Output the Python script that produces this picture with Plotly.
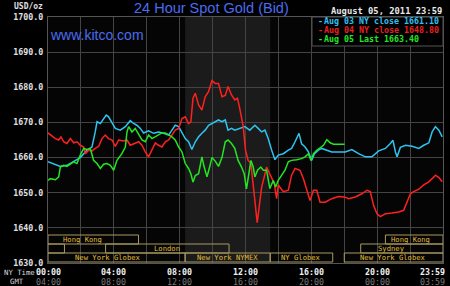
import plotly.graph_objects as go

# ---------------- data ----------------
t_aug03 = [0.00,0.34,0.75,1.15,1.56,1.96,2.37,2.67,2.87,2.98,3.18,3.38,3.54,3.68,3.89,4.09,4.39,4.70,5.00,5.20,
           5.40,5.61,5.81,6.11,6.42,6.72,7.02,7.33,7.53,7.73,7.94,8.14,8.34,8.54,8.74,8.95,9.15,9.35,9.55,9.76,
           9.96,10.16,10.36,10.57,10.77,10.94,11.15,11.35,11.65,11.96,12.26,12.57,12.77,12.98,13.18,13.38,13.59,
           13.79,13.99,14.30,14.60,14.80,15.01,15.11,15.25,15.41,15.62,15.82,16.02,16.19,16.43,16.63,16.84,17.24,
           17.65,18.06,18.46,18.87,19.28,19.68,20.09,20.50,20.80,20.96,21.11,21.21,21.41,21.72,22.12,22.53,22.83,
           23.14,23.34,23.54,23.75,23.95]
p_aug03 = [1658.8,1658.3,1657.5,1657.8,1658.8,1660.0,1662.1,1663.0,1667.3,1670.2,1669.7,1671.1,1672.1,1671.6,1669.7,
           1668.3,1667.8,1668.8,1670.5,1669.7,1669.2,1668.3,1667.0,1667.6,1666.9,1667.3,1666.9,1666.4,1667.8,1669.2,
           1668.8,1666.9,1665.4,1664.5,1662.3,1664.5,1665.9,1666.9,1667.8,1669.2,1669.7,1670.2,1670.7,1670.2,1670.7,
           1667.8,1668.3,1667.8,1668.3,1668.8,1667.8,1669.2,1668.3,1667.3,1667.8,1665.4,1662.1,1659.4,1660.7,1661.1,
           1662.1,1662.6,1664.5,1665.4,1666.9,1663.9,1663.0,1661.6,1659.2,1661.1,1662.1,1662.6,1662.3,1661.6,1661.6,
           1661.6,1662.3,1661.1,1660.2,1660.2,1661.9,1662.6,1664.0,1664.9,1661.6,1660.2,1662.9,1663.5,1663.2,1662.6,
           1663.5,1664.2,1667.3,1668.8,1667.8,1665.9]

t_aug04 = [0.00,0.24,0.45,0.65,0.79,0.95,1.15,1.36,1.56,1.76,1.96,2.17,2.27,2.47,2.67,2.87,3.08,3.28,3.48,3.68,
           3.89,4.09,4.29,4.60,4.80,5.00,5.30,5.51,5.71,5.91,6.11,6.32,6.52,6.72,6.92,7.13,7.33,7.53,7.73,7.94,
           8.14,8.34,8.54,8.68,8.81,8.95,9.15,9.35,9.55,9.76,9.96,10.16,10.36,10.57,10.77,10.94,11.15,11.35,11.51,
           11.65,11.86,12.00,12.16,12.33,12.47,12.61,12.71,12.83,12.98,13.14,13.28,13.42,13.59,13.75,13.89,13.99,
           14.15,14.30,14.60,14.80,15.01,15.31,15.52,15.72,15.92,16.13,16.33,16.53,16.84,17.24,17.65,18.02,18.26,
           18.67,19.07,19.38,19.58,19.78,19.99,20.19,20.50,20.90,21.31,21.61,21.82,22.02,22.22,22.53,22.83,23.14,
           23.34,23.54,23.75,23.95]
p_aug04 = [1667.0,1666.1,1665.4,1665.0,1665.9,1664.5,1664.0,1665.4,1664.2,1664.5,1663.5,1663.0,1661.1,1662.1,1661.9,
           1662.6,1663.2,1665.4,1666.4,1665.4,1665.0,1663.2,1665.0,1664.7,1665.0,1663.5,1664.2,1664.5,1663.5,1661.6,
           1660.2,1662.1,1664.2,1663.5,1663.0,1664.5,1665.0,1666.4,1667.8,1668.3,1671.1,1671.6,1669.7,1670.2,1676.9,
           1678.3,1675.0,1673.5,1677.3,1678.8,1681.9,1681.1,1681.1,1677.3,1677.7,1680.2,1677.8,1676.4,1676.9,1674.0,
           1668.8,1662.1,1659.2,1658.3,1652.6,1645.9,1641.5,1645.9,1651.6,1654.5,1657.3,1655.9,1654.0,1652.6,1648.3,
           1652.2,1651.2,1650.3,1650.7,1655.0,1656.9,1656.4,1654.0,1651.2,1647.8,1650.7,1650.7,1647.3,1647.3,1648.3,
           1648.9,1648.8,1648.3,1648.8,1649.7,1650.7,1650.3,1646.4,1644.0,1643.2,1644.0,1644.2,1644.5,1645.0,1647.3,
           1649.7,1650.3,1651.0,1652.2,1653.1,1654.0,1655.0,1654.3,1653.1]

t_aug05 = [0.00,0.14,0.45,0.65,0.75,0.95,1.15,1.36,1.56,1.76,1.96,2.17,2.37,2.57,2.77,2.98,3.18,3.38,3.58,3.79,
           3.99,4.19,4.49,4.70,4.80,4.90,5.10,5.30,5.51,5.71,5.91,6.11,6.32,6.52,6.72,6.92,7.13,7.33,7.53,7.73,
           7.94,8.14,8.34,8.54,8.68,8.81,8.95,9.15,9.35,9.49,9.66,9.82,9.96,10.16,10.36,10.57,10.77,10.94,11.15,
           11.35,11.55,11.76,11.92,12.06,12.20,12.33,12.47,12.57,12.73,12.93,13.08,13.28,13.48,13.69,13.83,13.99,
           14.20,14.40,14.60,14.80,15.11,15.41,15.62,15.82,15.98,16.13,16.33,16.53,16.74,16.94,17.14,17.35,17.65,18.02]
p_aug05 = [1653.5,1654.0,1653.7,1654.5,1657.3,1657.8,1657.5,1658.3,1658.8,1658.3,1660.7,1662.6,1662.3,1662.6,1659.2,
           1658.3,1656.9,1658.1,1658.3,1657.8,1656.4,1659.2,1661.1,1663.0,1667.3,1668.8,1667.3,1668.3,1666.4,1665.0,
           1664.5,1666.4,1665.4,1665.9,1666.4,1667.0,1667.0,1666.4,1665.9,1665.0,1663.0,1661.6,1658.3,1656.9,1655.4,
           1653.0,1654.9,1655.4,1660.2,1657.3,1654.5,1657.3,1660.0,1659.0,1657.5,1660.0,1664.5,1665.0,1664.0,1662.6,
           1659.2,1657.3,1655.4,1651.1,1655.4,1659.2,1657.3,1654.5,1656.4,1657.3,1656.4,1656.4,1651.2,1653.5,1651.6,
           1653.5,1655.0,1656.4,1658.8,1659.2,1659.4,1659.7,1660.2,1661.1,1659.2,1661.1,1662.1,1662.9,1663.5,1665.1,
           1664.2,1663.8,1663.8,1663.8]

series_labels = ["Aug 03 NY close 1661.10", "Aug 04 NY close 1648.80", "Aug 05 Last 1663.40"]
series_colors = ["#2ec4f0", "#ff2020", "#22e622"]
legend_text_colors = ["#30c0f0", "#e82020", "#22e622"]

y_ticks = [1630, 1640, 1650, 1660, 1670, 1680, 1690, 1700]
ny_hours = [0, 4, 8, 12, 16, 20, 24]
ny_labels = ["00:00", "04:00", "08:00", "12:00", "16:00", "20:00", "23:59"]
gmt_labels = ["04:00", "08:00", "12:00", "16:00", "20:00", "00:00", "03:59"]

nymex_start, nymex_end = 8.33, 13.5

# trading sessions: name, start hour, end hour, row, label hour
sess_names = ["Hong Kong", "Hong Kong", "", "London", "Sydney",
              "New York Globex", "New York NYMEX", "NY Globex", "New York Globex"]
sess_start = [0.0, 20.5, 0.0, 3.5, 19.0, 0.0, 8.33, 13.5, 18.0]
sess_end = [5.5, 24.0, 1.0, 11.0, 24.0, 8.33, 13.5, 17.3, 24.0]
sess_row = [1, 1, 2, 2, 2, 3, 3, 3, 3]
sess_label_at = [2.07, 22.05, 0.5, 7.2, 20.9, 3.63, 10.92, 15.4, 20.95]

# ---------------- figure ----------------
MONO = "DejaVu Sans Mono"
L, R, T, B, W, H = 48, 7, 17, 23, 450, 286
PW, PH = W - L - R, H - T - B

def px(xp):
    return (xp - L) / PW

def py(yp):
    return (H - B - yp) / PH

fig = go.Figure()
for t, p, c in zip([t_aug03, t_aug04, t_aug05], [p_aug03, p_aug04, p_aug05], series_colors):
    fig.add_trace(go.Scatter(x=t, y=p, mode="lines", line=dict(color=c, width=1.5),
                             showlegend=False, hoverinfo="skip"))

shapes = []
# NYMEX shading
shapes.append(dict(type="rect", xref="x", yref="paper", x0=nymex_start, x1=nymex_end, y0=0, y1=1,
                   fillcolor="#1b1b1b", line=dict(width=0), layer="below"))
# legend box
shapes.append(dict(type="rect", xref="paper", yref="paper", x0=px(312), x1=1, y0=py(46), y1=1,
                   fillcolor="#000000", line=dict(color="#555555", width=1), layer="above"))

row_y = {1: (py(244), py(235)), 2: (py(253), py(244)), 3: (py(262), py(253))}
annotations = []
for n, s, e, r, la in zip(sess_names, sess_start, sess_end, sess_row, sess_label_at):
    y0, y1 = row_y[r]
    shapes.append(dict(type="rect", xref="x", yref="paper", x0=s, x1=e, y0=y0, y1=y1,
                       fillcolor="rgba(0,0,0,0)", line=dict(color="#a89a60", width=1), layer="above"))
    if n:
        annotations.append(dict(xref="x", yref="paper", x=la, y=(y0 + y1) / 2, text=n, showarrow=False,
                                xanchor="center", yanchor="middle",
                                font=dict(family=MONO, size=7.2, color="#e0bc3a")))

# legend entries
for i, (lab, col) in enumerate(zip(series_labels, legend_text_colors)):
    yy = py(21 + 9 * i)
    annotations.append(dict(xref="paper", yref="paper", x=px(315.5), y=yy, text="-", showarrow=False,
                            xanchor="left", yanchor="middle",
                            font=dict(family=MONO, size=8.3, color=col, weight="bold")))
    annotations.append(dict(xref="paper", yref="paper", x=px(322), y=yy, text=lab, showarrow=False,
                            xanchor="left", yanchor="middle",
                            font=dict(family=MONO, size=8.3, color=col, weight="bold")))

# bottom time labels
for h, nl, gl in zip(ny_hours, ny_labels, gmt_labels):
    anchor = "right" if h == 24 else "center"
    shift = 4 if h == 24 else 0
    annotations.append(dict(xref="x", yref="paper", x=h, y=py(271.5), text=nl, showarrow=False,
                            xanchor=anchor, yanchor="middle", xshift=shift,
                            font=dict(family=MONO, size=8.3, color="#f0f0f0", weight="bold")))
    annotations.append(dict(xref="x", yref="paper", x=h, y=py(281.5), text=gl, showarrow=False,
                            xanchor=anchor, yanchor="middle", xshift=shift,
                            font=dict(family=MONO, size=8.3, color="#7a7a7a")))

annotations += [
    dict(xref="paper", yref="paper", x=px(2), y=py(272.5), text="NY Time", showarrow=False,
         xanchor="left", yanchor="middle", font=dict(family=MONO, size=7.3, color="#d8d8d8")),
    dict(xref="paper", yref="paper", x=px(8), y=py(281.5), text="GMT", showarrow=False,
         xanchor="left", yanchor="middle", font=dict(family=MONO, size=7.3, color="#d8d8d8")),
    dict(xref="paper", yref="paper", x=px(211), y=py(7.5), text="24 Hour Spot Gold (Bid)", showarrow=False,
         xanchor="center", yanchor="middle", font=dict(family="Liberation Sans", size=14.5, color="#4a6cf0")),
    dict(xref="paper", yref="paper", x=px(48), y=py(35), text="www.kitco.com", showarrow=False,
         xanchor="left", yanchor="middle", font=dict(family="Liberation Sans", size=14, color="#4a6cf0")),
    dict(xref="paper", yref="paper", x=px(45), y=py(6), text="USD/oz", showarrow=False,
         xanchor="right", yanchor="middle", font=dict(family=MONO, size=8, color="#e0e0e0", weight="bold")),
    dict(xref="paper", yref="paper", x=px(444), y=py(10.5), text="August 05, 2011 23:59", showarrow=False,
         xanchor="right", yanchor="middle", font=dict(family=MONO, size=8.8, color="#e8e8e8", weight="bold")),
]

fig.update_layout(
    width=W, height=H, margin=dict(l=L, r=R, t=T, b=B, pad=0),
    paper_bgcolor="#000000", plot_bgcolor="#050505",
    shapes=shapes, annotations=annotations, showlegend=False,
    xaxis=dict(range=[0, 24], dtick=2, tick0=0, showticklabels=False, showgrid=True,
               gridcolor="#444444", gridwidth=1, zeroline=False, showline=True, linecolor="#555555",
               mirror=True, ticks="", fixedrange=True),
    yaxis=dict(range=[1630, 1700], tickvals=y_ticks, tickformat=".1f", showgrid=True,
               gridcolor="#444444", gridwidth=1, zeroline=False, showline=True, linecolor="#555555",
               mirror=True, ticks="", ticklabelstandoff=2,
               tickfont=dict(family=MONO, size=8.3, color="#e0e0e0", weight="bold"), fixedrange=True),
)

fig.write_html("out.html")
